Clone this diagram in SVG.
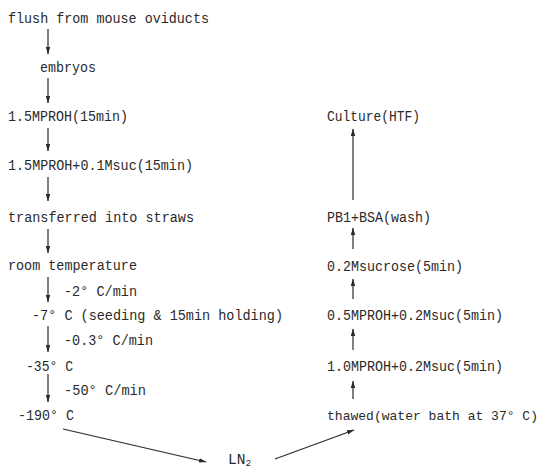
<svg xmlns="http://www.w3.org/2000/svg" width="543" height="470" viewBox="0 0 543 470">
<style>
text{font-family:"Liberation Mono","DejaVu Sans Mono",monospace;font-size:14.5px;fill:#2a2a2a;}
.c line{stroke:#2a2a2a;stroke-width:1.2;fill:none;}
</style>
<defs>
<marker id="ah" markerUnits="userSpaceOnUse" markerWidth="8" markerHeight="6" refX="7" refY="3" orient="auto">
<path d="M0,0.8 L7.5,3 L0,5.2 Z" fill="#2a2a2a"/>
</marker>
</defs>
<rect width="543" height="470" fill="#ffffff"/>
<g id="n-flush"><text x="8" y="23" textLength="201" lengthAdjust="spacingAndGlyphs">flush from mouse oviducts</text></g>
<g id="n-embryos"><text x="40" y="72" textLength="56" lengthAdjust="spacingAndGlyphs">embryos</text></g>
<g id="n-proh15"><text x="8" y="121" textLength="120" lengthAdjust="spacingAndGlyphs">1.5MPROH(15min)</text></g>
<g id="n-proh15suc"><text x="8" y="170" textLength="185" lengthAdjust="spacingAndGlyphs">1.5MPROH+0.1Msuc(15min)</text></g>
<g id="n-straws"><text x="8" y="222" textLength="186" lengthAdjust="spacingAndGlyphs">transferred into straws</text></g>
<g id="n-room"><text x="8" y="270" textLength="129" lengthAdjust="spacingAndGlyphs">room temperature</text></g>
<g id="n-m7"><text x="32" y="320" textLength="251" lengthAdjust="spacingAndGlyphs">-7° C (seeding &amp; 15min holding)</text></g>
<g id="n-m35"><text x="26" y="371" textLength="47" lengthAdjust="spacingAndGlyphs">-35° C</text></g>
<g id="n-m190"><text x="18" y="420" textLength="56" lengthAdjust="spacingAndGlyphs">-190° C</text></g>
<g id="n-ln2"><text x="228" y="464">LN<tspan font-size="9.5" dy="2">2</tspan></text></g>
<g id="n-thawed"><text x="327" y="420" style="font-size:13.2px" textLength="211" lengthAdjust="spacingAndGlyphs">thawed(water bath at 37° C)</text></g>
<g id="n-proh10"><text x="327" y="371" textLength="176" lengthAdjust="spacingAndGlyphs">1.0MPROH+0.2Msuc(5min)</text></g>
<g id="n-proh05"><text x="327" y="320" textLength="176" lengthAdjust="spacingAndGlyphs">0.5MPROH+0.2Msuc(5min)</text></g>
<g id="n-sucrose"><text x="327" y="271" textLength="136" lengthAdjust="spacingAndGlyphs">0.2Msucrose(5min)</text></g>
<g id="n-pb1"><text x="327" y="222" textLength="104" lengthAdjust="spacingAndGlyphs">PB1+BSA(wash)</text></g>
<g id="n-culture"><text x="327" y="121" textLength="93" lengthAdjust="spacingAndGlyphs">Culture(HTF)</text></g>
<g id="connectors" class="c">
<line x1="48" y1="29" x2="48" y2="54" marker-end="url(#ah)"/>
<line x1="48" y1="78" x2="48" y2="103" marker-end="url(#ah)"/>
<line x1="48" y1="128" x2="48" y2="151" marker-end="url(#ah)"/>
<line x1="48" y1="177" x2="48" y2="201" marker-end="url(#ah)"/>
<line x1="48" y1="229" x2="48" y2="253" marker-end="url(#ah)"/>
<line x1="48" y1="277" x2="48" y2="302" marker-end="url(#ah)"/>
<line x1="48" y1="326" x2="48" y2="352" marker-end="url(#ah)"/>
<line x1="48" y1="374" x2="48" y2="402" marker-end="url(#ah)"/>
<line x1="63" y1="429" x2="206" y2="462" marker-end="url(#ah)"/>
<line x1="275" y1="459" x2="354" y2="430" marker-end="url(#ah)"/>
<line x1="353" y1="399" x2="353" y2="381" marker-end="url(#ah)"/>
<line x1="353" y1="350" x2="353" y2="329" marker-end="url(#ah)"/>
<line x1="353" y1="299" x2="353" y2="279" marker-end="url(#ah)"/>
<line x1="353" y1="249" x2="353" y2="228" marker-end="url(#ah)"/>
<line x1="353" y1="200" x2="353" y2="129" marker-end="url(#ah)"/>
</g>
<g id="rate-labels">
<text x="64" y="296" textLength="73" lengthAdjust="spacingAndGlyphs">-2° C/min</text>
<text x="64" y="345" textLength="89" lengthAdjust="spacingAndGlyphs">-0.3° C/min</text>
<text x="64" y="395" textLength="82" lengthAdjust="spacingAndGlyphs">-50° C/min</text>
</g>
</svg>
